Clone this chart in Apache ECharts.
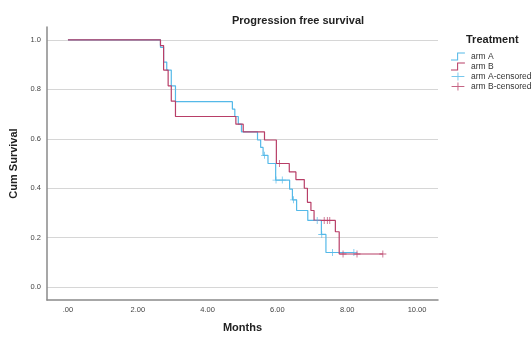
<!DOCTYPE html>
<html>
<head>
<meta charset="utf-8">
<script src="https://cdn.jsdelivr.net/npm/echarts@6/dist/echarts.min.js"></script>
<style>
  html, body { margin: 0; padding: 0; background: #fff; }
  #chart { width: 531px; height: 338px; }
</style>
</head>
<body>
<div id="chart"></div>
<script>
// step points [months, cum survival]
const armA = [
  [0, 1.0], [2.65, 0.97], [2.74, 0.91], [2.83, 0.878], [2.96, 0.814], [3.08, 0.75],
  [4.71, 0.72], [4.78, 0.69], [4.88, 0.659], [4.97, 0.628], [5.43, 0.595], [5.52, 0.565],
  [5.59, 0.533], [5.73, 0.50], [5.95, 0.433], [6.35, 0.396], [6.43, 0.353], [6.55, 0.31],
  [6.87, 0.27], [7.26, 0.213], [7.39, 0.14], [8.19, 0.14]
]
const armB = [
  [0, 1.0], [2.65, 0.977], [2.74, 0.878], [2.87, 0.814], [2.96, 0.752], [3.08, 0.69],
  [4.81, 0.659], [5.02, 0.628], [5.63, 0.595], [5.97, 0.50], [6.34, 0.466], [6.53, 0.435],
  [6.77, 0.40], [6.86, 0.343], [6.96, 0.31], [7.05, 0.27], [7.66, 0.224], [7.77, 0.134],
  [9.02, 0.134]
]
const armACensored = [
  [5.63, 0.533], [5.96, 0.433], [6.14, 0.433], [6.46, 0.353], [7.14, 0.27],
  [7.27, 0.213], [7.58, 0.14], [8.19, 0.14]
]
const armBCensored = [
  [6.06, 0.50], [7.34, 0.27], [7.43, 0.27], [7.50, 0.27], [7.88, 0.134],
  [8.28, 0.134], [9.02, 0.134]
]
const xTicks = [0, 2, 4, 6, 8, 10]
const yTicks = [0, 0.2, 0.4, 0.6, 0.8, 1.0]

const blue = '#55b9e8'
const red = '#b83e67'
const font = 'Arial, "Liberation Sans", sans-serif'

// 图例图标
const stepIcon = 'path://M0,9 L7,9 L7,1 L16,1 L16,2.2 L8.2,2.2 L8.2,10.2 L0,10.2 Z'
const plusIcon = 'path://M0,4.4 L16,4.4 L16,5.6 L0,5.6 Z M7.4,0 L8.6,0 L8.6,10 L7.4,10 Z'
const plusSymbol = 'path://M0,4.4 L10,4.4 L10,5.6 L0,5.6 Z M4.4,0 L5.6,0 L5.6,10 L4.4,10 Z'

const myChart = echarts.init(document.getElementById('chart'))
const option = {
  animation: false,
  title: [{
    text: 'Progression free survival',
    left: 227,
    top: 10,
    textStyle: { fontFamily: font, fontSize: 11, fontWeight: 'bold', color: '#222' }
  }, {
    text: 'Treatment',
    left: 461,
    top: 29,
    textStyle: { fontFamily: font, fontSize: 11, fontWeight: 'bold', color: '#222' }
  }],
  legend: {
    orient: 'vertical',
    left: 446,
    top: 47,
    itemWidth: 16,
    itemHeight: 8,
    itemGap: 1,
    textStyle: { fontFamily: font, fontSize: 8.5, color: '#333' },
    data: [
      { name: 'arm A', icon: stepIcon },
      { name: 'arm B', icon: stepIcon },
      { name: 'arm A-censored', icon: plusIcon },
      { name: 'arm B-censored', icon: plusIcon }
    ]
  },
  grid: { left: 44, right: 93, top: 27, bottom: 34 },
  xAxis: {
    type: 'value',
    min: -0.6,
    max: 10.6,
    name: 'Months',
    nameLocation: 'middle',
    nameGap: 22,
    nameTextStyle: { fontFamily: font, fontSize: 11, fontWeight: 'bold', color: '#222' },
    axisLine: { show: true, onZero: false, lineStyle: { color: '#8a8a8a', width: 1.5 } },
    axisTick: { show: false, customValues: xTicks },
    axisLabel: {
      customValues: xTicks,
      fontFamily: font,
      fontSize: 7.5,
      color: '#444',
      margin: 6,
      formatter: function(v) { return v === 0 ? '.00' : v.toFixed(2) }
    },
    splitLine: { show: false }
  },
  yAxis: {
    type: 'value',
    min: -0.052,
    max: 1.052,
    name: 'Cum Survival',
    nameLocation: 'middle',
    nameGap: 28,
    nameTextStyle: { fontFamily: font, fontSize: 11, fontWeight: 'bold', color: '#222' },
    axisLine: { show: true, onZero: false, lineStyle: { color: '#8a8a8a', width: 1.5 } },
    axisTick: { show: false, customValues: yTicks },
    axisLabel: {
      customValues: yTicks,
      fontFamily: font,
      fontSize: 7.5,
      color: '#444',
      margin: 6,
      formatter: function(v) { return v.toFixed(1) }
    },
    splitLine: { show: true, lineStyle: { color: '#d6d6d6', width: 1.2 } }
  },
  series: [{
    name: 'arm A',
    type: 'line',
    step: 'end',
    data: armA,
    symbol: 'none',
    lineStyle: { color: blue, width: 1.2 },
    itemStyle: { color: blue },
    z: 2
  }, {
    name: 'arm B',
    type: 'line',
    step: 'end',
    data: armB,
    symbol: 'none',
    lineStyle: { color: red, width: 1.2 },
    itemStyle: { color: red },
    z: 3
  }, {
    name: 'arm A-censored',
    type: 'scatter',
    data: armACensored,
    symbol: plusSymbol,
    symbolSize: 7,
    itemStyle: { color: blue },
    z: 4
  }, {
    name: 'arm B-censored',
    type: 'scatter',
    data: armBCensored,
    symbol: plusSymbol,
    symbolSize: 7,
    itemStyle: { color: red },
    z: 5
  }]
}
myChart.setOption(option)
</script>
</body>
</html>
